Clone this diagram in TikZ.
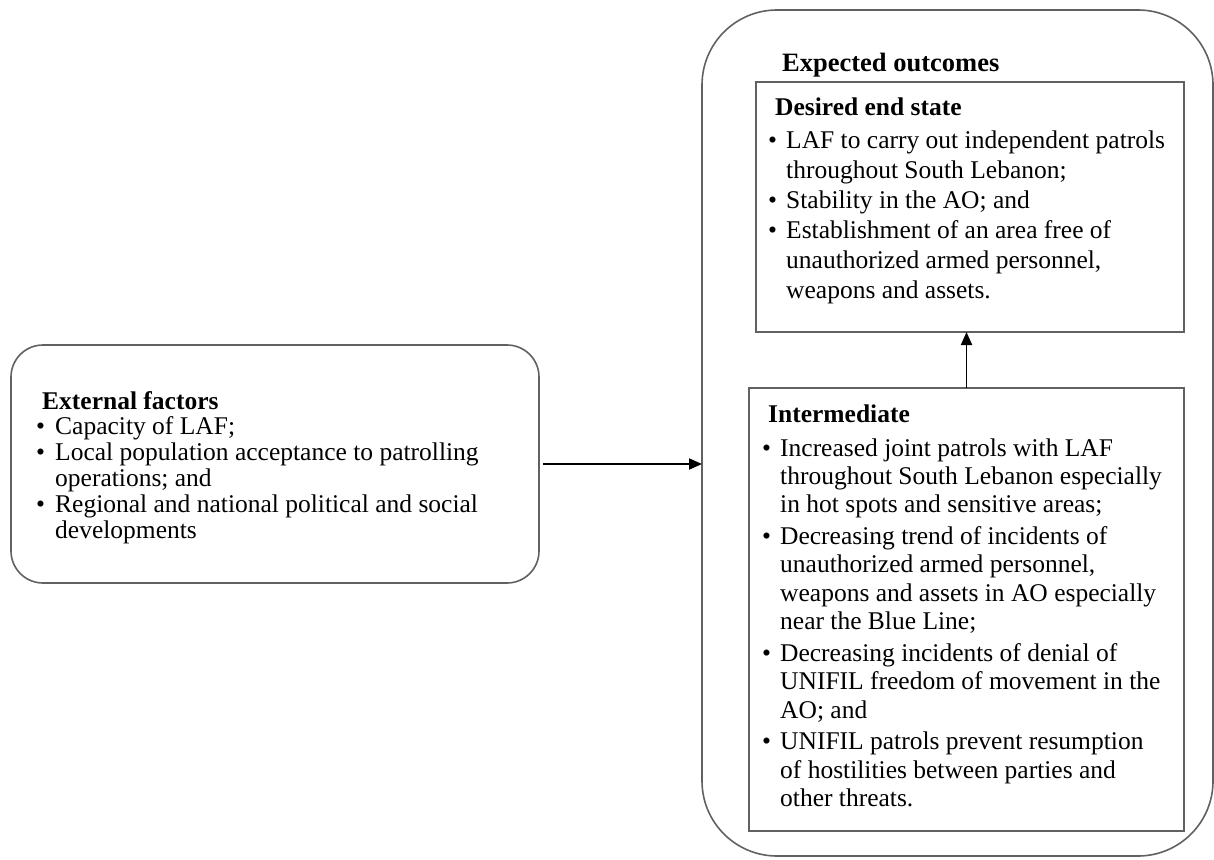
\documentclass[tikz,border=0pt]{standalone}
\usepackage{fontspec}
\setmainfont{Liberation Serif}
\usetikzlibrary{arrows.meta}
\begin{document}
\begin{tikzpicture}[x=1pt,y=-1pt,
  framebox/.style={draw=black!62, line width=1.6pt, inner sep=0pt, outer sep=0pt, anchor=north west},
  txt/.style={anchor=base west, align=left, inner sep=0pt, text=black},
  arr/.style={draw=black, line width=1.9pt, -{Triangle[length=13pt,width=11pt]}}]
\useasboundingbox (0,0) rectangle (1214,859);
% boxes
\node[framebox, rounded corners=32pt, minimum width=528pt, minimum height=238pt] (ext) at (11,345) {};
\node[framebox, rounded corners=75pt, minimum width=511pt, minimum height=846pt] (outer) at (702,10) {};
\node[framebox, minimum width=428pt, minimum height=250pt] (desired) at (756,82) {};
\node[framebox, minimum width=435pt, minimum height=443pt] (inter) at (749,388) {};
% texts
\node[txt, font=\fontsize{25.5}{25.8}\selectfont] (exttext) at (36,409) {\begin{tabular}[t]{@{}p{19pt}@{}l@{}}
\multicolumn{2}{@{\hspace{6pt}}l@{}}{\bfseries External factors}\\
\textbullet & Capacity of LAF;\\
\textbullet & Local population acceptance to patrolling\\
 & operations; and\\
\textbullet & Regional and national political and social\\
 & developments
\end{tabular}};
\node[txt, font=\fontsize{26.5}{28}\selectfont\bfseries] (exptitle) at (782,71) {Expected outcomes};
\node[txt, font=\fontsize{25.5}{30}\selectfont] (destext) at (768,115) {\begin{tabular}[t]{@{}p{18pt}@{}l@{}}
\multicolumn{2}{@{\hspace{7pt}}l@{}}{\bfseries Desired end state}\\[3pt]
\textbullet & LAF to carry out independent patrols\\
 & throughout South Lebanon;\\
\textbullet & Stability in the AO; and\\
\textbullet & Establishment of an area free of\\
 & unauthorized armed personnel,\\
 & weapons and assets.
\end{tabular}};
\node[txt, font=\fontsize{25.5}{28.33}\selectfont] (inttext) at (762,422) {\begin{tabular}[t]{@{}p{18pt}@{}l@{}}
\multicolumn{2}{@{\hspace{6pt}}l@{}}{\bfseries Intermediate}\\[5.7pt]
\textbullet & Increased joint patrols with LAF\\
 & throughout South Lebanon especially\\
 & in hot spots and sensitive areas;\\[3.5pt]
\textbullet & Decreasing trend of incidents of\\
 & unauthorized armed personnel,\\
 & weapons and assets in AO especially\\
 & near the Blue Line;\\[3.5pt]
\textbullet & Decreasing incidents of denial of\\
 & UNIFIL freedom of movement in the\\
 & AO; and\\[3.5pt]
\textbullet & UNIFIL patrols prevent resumption\\
 & of hostilities between parties and\\
 & other threats.
\end{tabular}};
% connectors
\draw[arr, shorten <=4pt] (ext.east) -- (ext.east -| outer.west);
\draw[arr] (inter.north) -- (inter.north |- desired.south);
\end{tikzpicture}
\end{document}
